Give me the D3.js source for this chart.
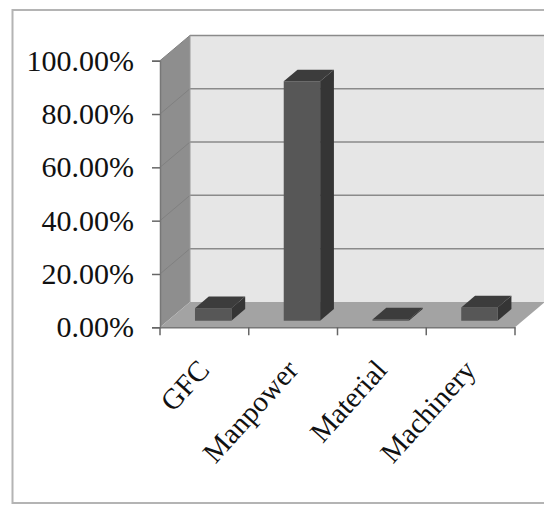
<!DOCTYPE html>
<html>
<head>
<meta charset="utf-8">
<script src="https://cdn.jsdelivr.net/npm/d3@7"></script>
<style>
  html, body { margin: 0; padding: 0; background: #fff; }
  svg { display: block; }
  text { font-family: "Liberation Serif", "Times New Roman", serif; fill: #111; }
</style>
</head>
<body>
<svg id="chart" width="544" height="507"></svg>
<script>
// Share of each resource category
const categories = ["GFC", "Manpower", "Material", "Machinery"];
const values = [4.7, 89.8, 0.5, 5.0];
const yTicks = [0, 20, 40, 60, 80, 100];
const yTickLabels = ["0.00%", "20.00%", "40.00%", "60.00%", "80.00%", "100.00%"];

const svg = d3.select("#chart");

// Front plane of the 3-D box
const x = d3.scaleBand().domain(categories).range([160, 515]).paddingInner(0).paddingOuter(0);
const y = d3.scaleLinear().domain([0, 100]).range([327.3, 60.7]);

// Depth offset (oblique projection)
const DX = 30, DY = -25.3;
const P = (px, py, d) => [px + d * DX, py + d * DY];

// Outer frame
svg.append("rect")
  .attr("x", 12.5).attr("y", 10)
  .attr("width", 560).attr("height", 493)
  .attr("fill", "none").attr("stroke", "#b4b4b4").attr("stroke-width", 2);

const x0 = x.range()[0], x1 = x.range()[1];
const yTop = y(100), yBot = y(0);

// Back wall
const wall = [P(x0, yTop, 1), P(x1 + 40, yTop, 1), P(x1 + 40, yBot, 1), P(x0, yBot, 1)];
svg.append("polygon").attr("points", wall.join(" ")).attr("fill", "#e6e6e6");

// Left side wall
const side = [P(x0, yTop, 0), P(x0, yTop, 1), P(x0, yBot, 1), P(x0, yBot, 0)];
svg.append("polygon").attr("points", side.join(" ")).attr("fill", "#8e8e8e");

// Floor
const floor = [P(x0, yBot, 0), P(x1, yBot, 0), P(x1, yBot, 1), P(x0, yBot, 1)];
svg.append("polygon").attr("points", floor.join(" ")).attr("fill", "#a3a3a3");

// Gridlines on back wall and side wall
yTicks.filter(t => t > 0).forEach(t => {
  const a = P(x0, y(t), 1);
  svg.append("line")
    .attr("x1", a[0]).attr("y1", a[1]).attr("x2", 560).attr("y2", a[1])
    .attr("stroke", "#8a8a8a").attr("stroke-width", 1.5);
  const b = P(x0, y(t), 0);
  svg.append("line")
    .attr("x1", b[0]).attr("y1", b[1]).attr("x2", a[0]).attr("y2", a[1])
    .attr("stroke", "#808080").attr("stroke-width", 1);
});
// Back wall left edge
{
  const a = P(x0, yTop, 1), b = P(x0, yBot, 1);
  svg.append("line").attr("x1", a[0]).attr("y1", a[1]).attr("x2", b[0]).attr("y2", b[1])
    .attr("stroke", "#9a9a9a").attr("stroke-width", 1);
}

// Bars as 3-D boxes
const dFront = 0.26, dBack = 0.72;
const barW = x.bandwidth() * 0.41;
const barGroup = svg.append("g");
categories.forEach((c, i) => {
  const cx = x(c) + x.bandwidth() / 2 + 1;
  const bl = cx - barW / 2, br = cx + barW / 2;
  const top = y(values[i]), base = y(0);
  const front = [P(bl, top, dFront), P(br, top, dFront), P(br, base, dFront), P(bl, base, dFront)];
  const right = [P(br, top, dFront), P(br, top, dBack), P(br, base, dBack), P(br, base, dFront)];
  const lid = [P(bl, top, dFront), P(bl, top, dBack), P(br, top, dBack), P(br, top, dFront)];
  barGroup.append("polygon").attr("points", right.join(" ")).attr("fill", "#353535");
  barGroup.append("polygon").attr("points", front.join(" ")).attr("fill", "#575757");
  barGroup.append("polygon").attr("points", lid.join(" ")).attr("fill", "#3c3c3c");
});

// Value axis (front left edge)
const yAxis = d3.axisLeft(y).tickValues(yTicks)
  .tickFormat((d, i) => yTickLabels[i]).tickSize(8).tickPadding(18);
const ya = svg.append("g").attr("transform", `translate(${x0},0)`).call(yAxis);
ya.select(".domain").attr("stroke", "#777").attr("stroke-width", 1.5);
ya.selectAll(".tick line").attr("stroke", "#666").attr("stroke-width", 1.5);
ya.selectAll(".tick text")
  .style("font-family", '"Liberation Serif", "Times New Roman", serif')
  .style("font-size", "30px").attr("fill", "#111").attr("dy", "0.32em");

// Category axis (front floor edge)
const xAxis = d3.axisBottom(x).tickSize(0).tickFormat("");
const xa = svg.append("g").attr("transform", `translate(0,${yBot})`).call(xAxis);
xa.select(".domain").attr("stroke", "#777").attr("stroke-width", 1.5);
xa.selectAll(".tick").remove();
// Tick marks at category boundaries
const bounds = categories.map(c => x(c)).concat([x1]);
xa.selectAll("line.sep").data(bounds).join("line").attr("class", "sep")
  .attr("x1", d => d).attr("x2", d => d).attr("y1", 0).attr("y2", 8)
  .attr("stroke", "#666").attr("stroke-width", 1.5);

// Rotated category labels
svg.append("g").selectAll("text").data(categories).join("text")
  .attr("transform", d => `translate(${x(d) + x.bandwidth() / 2 - 1},${yBot + 37}) rotate(-48)`)
  .attr("text-anchor", "end")
  .attr("dy", "0.35em")
  .style("font-size", "29px")
  .text(d => d);
</script>
</body>
</html>
